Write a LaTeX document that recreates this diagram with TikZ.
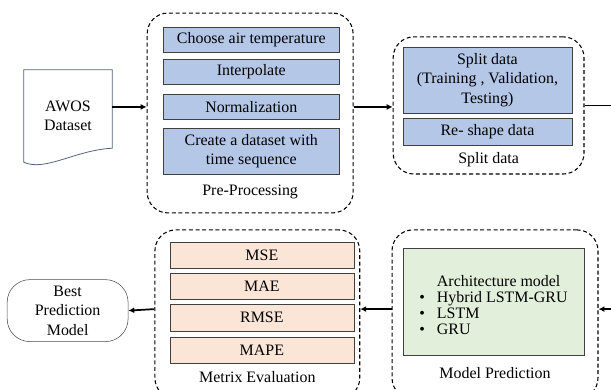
\documentclass[tikz,border=0pt]{standalone}
\usepackage{fontspec}
\setmainfont{Liberation Serif}
\usepackage{tikz}
\usetikzlibrary{arrows.meta}
\definecolor{azulcaja}{RGB}{180,199,231}
\definecolor{rosacaja}{RGB}{251,229,214}
\definecolor{verdecaja}{RGB}{226,239,218}
\definecolor{docgris}{RGB}{84,98,124}
\tikzstyle{dashframe}=[draw=black, line width=0.8pt, dash pattern=on 3pt off 2pt, rounded corners=0.55cm]
\tikzstyle{bluebox}=[draw=black!75, thin, fill=azulcaja, minimum width=4.68cm, minimum height=0.67cm, align=center]
\tikzstyle{pinkbox}=[draw=black!75, thin, fill=rosacaja, minimum width=4.87cm, minimum height=0.69cm]
\tikzstyle{arrowline}=[line width=1.3pt, -{Latex[length=4.5pt, width=4.5pt]}]

\begin{document}
\begin{tikzpicture}[every node/.style={font=\fontsize{12}{14.5}\selectfont}]
        \useasboundingbox (0,0) rectangle (16.17,-10.32);
        \clip (0,0) rectangle (16.17,-10.32);

        %% Datos de entrada
        \node[minimum width=2.33cm, minimum height=2.43cm, align=center] (awos) at (1.80,-3.07) {AWOS\\Dataset};
        \draw[docgris, line width=0.6pt] (awos.north west) -- (awos.north east) -- ([yshift=0.37cm]awos.south east)
              .. controls +(-0.98,-0.05) and +(0.56,-0.26) .. (awos.south west) -- cycle;

        %% Pre-procesamiento
        \node[dashframe, minimum width=5.45cm, minimum height=5.29cm] (pre) at (6.62,-2.99) {};
        % Cajas
        \node[bluebox] (pp1) at (6.65,-1.045) {Choose air temperature};
        \node[bluebox] (pp2) at (6.65,-1.905) {Interpolate};
        \node[bluebox] (pp3) at (6.65,-2.82) {Normalization};
        \node[bluebox, minimum height=1.22cm] (pp4) at (6.65,-4.00) {Create a dataset with\\time sequence};
        \node (prelabel) at (6.62,-5.07) {Pre-Processing};

        %% Division de datos
        \node[dashframe, minimum width=5.05cm, minimum height=3.63cm] (split) at (12.93,-2.79) {};
        % Cajas
        \node[bluebox, minimum width=4.47cm, minimum height=1.75cm] (sp1) at (12.90,-2.12) {Split data\\(Training , Validation,\\Testing)};
        \node[bluebox, minimum width=4.47cm, minimum height=0.71cm] (sp2) at (12.90,-3.48) {Re- shape data};
        \node (splabel) at (12.93,-4.23) {Split data};

        %% Prediccion del modelo
        \node[dashframe, minimum width=5.45cm, minimum height=4.47cm] (mp) at (13.10,-8.32) {};
        \node[draw=black!75, thin, fill=verdecaja, minimum width=4.79cm, minimum height=2.83cm] (arch) at (13.06,-7.98)
              {\fontsize{12}{11.8}\selectfont
               \begin{tabular}{@{}l@{\hspace{9pt}}l@{}}
                 \rule{0pt}{17pt} & Architecture model\\
                 \textbullet & Hybrid LSTM-GRU\\
                 \textbullet & LSTM\\
                 \textbullet & GRU
               \end{tabular}};
        \node (mplabel) at (13.10,-9.87) {Model Prediction};

        %% Evaluacion de metricas
        \node[dashframe, minimum width=5.42cm, minimum height=4.47cm] (me) at (6.81,-8.32) {};
        % Cajas
        \node[pinkbox] (mse) at (6.93,-6.75) {MSE};
        \node[pinkbox] (mae) at (6.93,-7.58) {MAE};
        \node[pinkbox] (rmse) at (6.93,-8.41) {RMSE};
        \node[pinkbox] (mape) at (6.93,-9.26) {MAPE};
        \node (melabel) at (6.81,-9.98) {Metrix Evaluation};

        %% Resultado
        \node[draw=black!70, thin, rounded corners=0.6cm, minimum width=3.20cm, minimum height=1.64cm, align=center] (best) at (1.79,-8.22) {Best\\Prediction\\Model};

        %% Flechas
        \coordinate (toprow) at (0,-2.83);
        \coordinate (midrow) at (0,-8.18);
        \coordinate (outR) at (16.3,-2.79);
        \coordinate (inR) at (16.3,-8.18);
        \draw[arrowline] (awos.east |- toprow) -- (pre.west |- toprow);
        \draw[arrowline] (pre.east |- toprow) -- (split.west |- toprow);
        \draw[line width=1.3pt] (split.east) -- (outR);
        \draw[arrowline] (inR) -- (mp.east |- inR);
        \draw[arrowline] (mp.west |- midrow) -- (me.east |- midrow);
        \draw[arrowline] (me.west |- midrow) -- (best.east);
    \end{tikzpicture}
\end{document}
